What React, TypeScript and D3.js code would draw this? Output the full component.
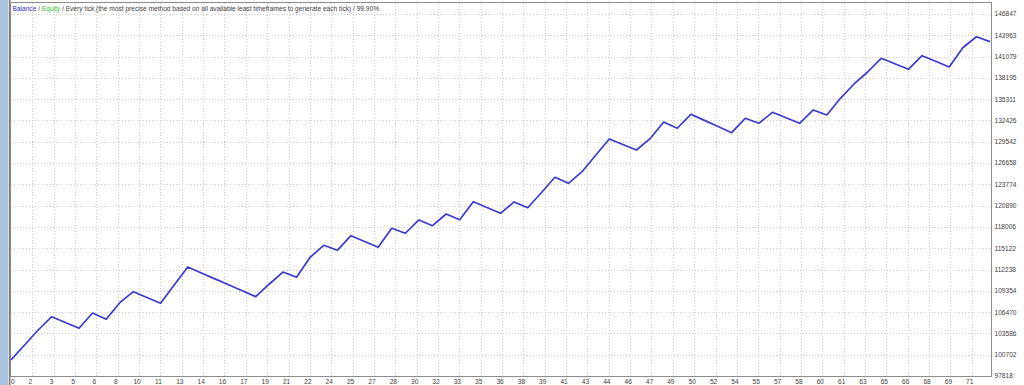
import React from "react";
import * as d3 from "d3";

// balance after each trade (trade 0 = initial deposit)
const balance = [
  100000, 102020, 104050, 105850, 105060, 104280, 106350, 105500, 107750, 109240,
  108450, 107660, 110140, 112580, 111780, 110970, 110170, 109360, 108560, 110280,
  111900, 111190, 113900, 115520, 114840, 116820, 116040, 115250, 117820, 117150,
  118950, 118180, 119760, 118990, 121430, 120640, 119850, 121390, 120610, 122640,
  124730, 123920, 125490, 127710, 129920, 129170, 128430, 129960, 132220, 131370,
  133260, 132440, 131600, 130770, 132720, 132040, 133530, 132790, 132040, 133850,
  133170, 135430, 137370, 138990, 140850, 140100, 139360, 141200, 140440, 139670,
  142280, 143770, 143100,
];

const yTicks = [
  97818, 100702, 103586, 106470, 109354, 112238, 115122, 118006, 120890, 123774,
  126658, 129542, 132426, 135311, 138195, 141079, 143963, 146847,
];

const xTickLabels = [
  0, 2, 3, 5, 6, 8, 10, 11, 13, 14, 16, 17, 19, 21, 22, 24, 25, 27, 28, 30, 32, 33, 35,
  36, 38, 39, 41, 43, 44, 46, 47, 49, 50, 52, 54, 55, 57, 58, 60, 61, 63, 65, 66, 68,
  69, 71,
];

const W = 1024;
const H = 385;
const left = 11;
const right = 991;
const top = 3;
const bottom = 376;
const font = "'Liberation Sans', Arial, sans-serif";

export default function App() {
  const x = d3.scaleLinear().domain([0, balance.length - 1]).range([left, 990]);
  const y = d3.scaleLinear().domain([yTicks[0], yTicks[yTicks.length - 1]]).range([bottom, 14]);
  // label slots are spaced evenly along the axis
  const xLab = d3.scaleLinear().domain([0, xTickLabels.length - 1]).range([left, 971.75]);

  const line = d3
    .line<number>()
    .x((d, i) => x(i))
    .y((d) => y(d));

  return (
    <svg width={W} height={H} style={{ position: "absolute", left: 0, top: 0, background: "#fff" }}>
      {/* window frame strip on the left */}
      <rect x={0} y={0} width={8} height={H} fill="#a9c2de" />
      <rect x={8} y={0} width={1} height={H} fill="#d4dde8" />
      <rect x={9} y={0} width={1.5} height={H} fill="#7d7d7d" />

      {/* grid */}
      {yTicks.slice(1).map((t) => (
        <line key={"h" + t} x1={left} x2={right} y1={Math.round(y(t)) + 0.5} y2={Math.round(y(t)) + 0.5}
          stroke="#cfcfcf" strokeDasharray="1 2" />
      ))}
      {xTickLabels.slice(1).map((t, i) => (
        <line key={"v" + i} x1={Math.round(xLab(i + 1)) + 0.5} x2={Math.round(xLab(i + 1)) + 0.5} y1={top} y2={bottom}
          stroke="#cfcfcf" strokeDasharray="1 2" />
      ))}

      {/* plot border */}
      <rect x={left - 0.5} y={top - 0.5} width={right - left + 1} height={bottom - top + 1}
        fill="none" stroke="#8c8c8c" />

      {/* balance line */}
      <path d={line(balance) || ""} fill="none" stroke="#3a3ad2" strokeWidth={1.7} strokeLinejoin="round" />

      {/* legend */}
      <text x={12.5} y={10.5} fontFamily={font} fontSize={6.6} fill="#404040">
        <tspan fill="#3535c8">Balance</tspan>
        <tspan> / </tspan>
        <tspan fill="#2fbf2f">Equity</tspan>
        <tspan> / Every tick (the most precise method based on all available least timeframes to generate each tick) / 99.90%</tspan>
      </text>

      {/* y axis labels */}
      {yTicks.map((t) => (
        <text key={"yl" + t} x={994.5} y={y(t) + 2.4} fontFamily={font} fontSize={6.6} fill="#404040">
          {t}
        </text>
      ))}

      {/* x axis labels */}
      {xTickLabels.map((t, i) => (
        <text key={"xl" + i} x={i === 0 ? 11 : xLab(i) - 2} y={383.5} fontFamily={font} fontSize={6.6}
          fill="#404040" textAnchor={i === 0 ? "start" : "middle"}>
          {t}
        </text>
      ))}
    </svg>
  );
}
